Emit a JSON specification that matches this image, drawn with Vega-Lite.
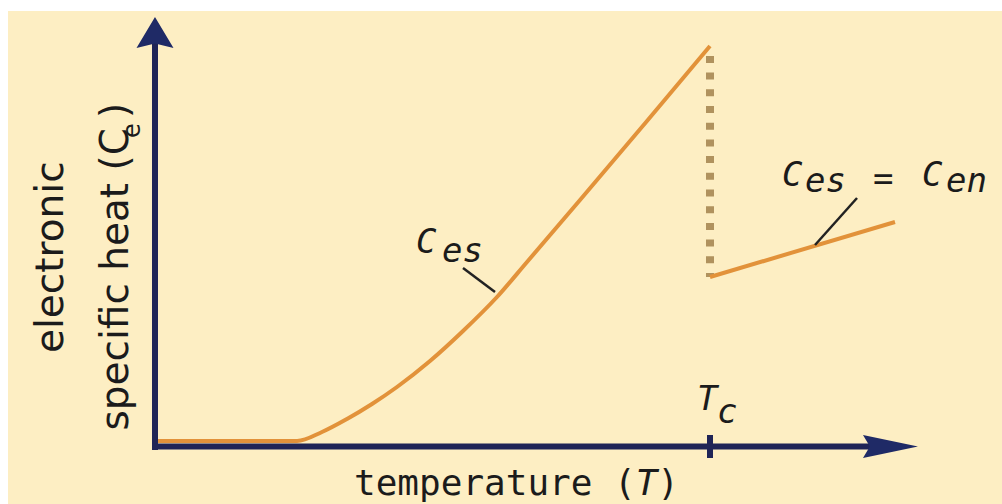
{
  "$schema": "https://vega.github.io/schema/vega-lite/v6.json",
  "width": 994,
  "height": 493,
  "autosize": {"type": "none"},
  "padding": {"left": 8, "top": 11, "right": 0, "bottom": 0},
  "background": "#ffffff",
  "config": {"view": {"fill": "#fdeec3", "stroke": null}},
  "datasets": {
    "curve": [
      {"T": 0, "C": 0, "phase": "superconducting"},
      {"T": 0.2559, "C": 0, "phase": "superconducting"},
      {"T": 0.3009, "C": 0.0228, "phase": "superconducting"},
      {"T": 0.3459, "C": 0.0557, "phase": "superconducting"},
      {"T": 0.391, "C": 0.0937, "phase": "superconducting"},
      {"T": 0.436, "C": 0.1367, "phase": "superconducting"},
      {"T": 0.4955, "C": 0.2025, "phase": "superconducting"},
      {"T": 0.555, "C": 0.2785, "phase": "superconducting"},
      {"T": 0.6162, "C": 0.3646, "phase": "superconducting"},
      {"T": 0.6703, "C": 0.4532, "phase": "superconducting"},
      {"T": 0.7658, "C": 0.6101, "phase": "superconducting"},
      {"T": 0.8865, "C": 0.8101, "phase": "superconducting"},
      {"T": 1, "C": 1, "phase": "superconducting"},
      {"T": 1, "C": 0.4152, "phase": "normal"},
      {"T": 1.3333, "C": 0.5544, "phase": "normal"}
    ],
    "jump": [{"T": 1, "C": 0.975, "C2": 0.4152}],
    "axes": [
      {"T": 0, "C": -0.0228, "T2": 0, "C2": 1.02},
      {"T": -0.0054, "C": -0.0139, "T2": 1.3, "C2": -0.0139},
      {"T": 1, "C": 0.0152, "T2": 1, "C2": -0.043}
    ],
    "arrows": [
      {"T": 0, "C": 1.0342, "dir": "up"},
      {"T": 1.3252, "C": -0.0139, "dir": "right"}
    ],
    "leaders": [
      {"T": 0.555, "C": 0.438, "T2": 0.6126, "C2": 0.3772},
      {"T": 1.2649, "C": 0.6152, "T2": 1.1892, "C2": 0.4962}
    ],
    "labels": [
      {"T": 0.4703, "C": 0.4759, "txt": "C", "part": "symbol"},
      {"T": 0.5171, "C": 0.4532, "txt": "es", "part": "symbol"},
      {"T": 1.1297, "C": 0.6456, "txt": "C", "part": "symbol"},
      {"T": 1.1712, "C": 0.6304, "txt": "es", "part": "symbol"},
      {"T": 1.2937, "C": 0.6354, "txt": "=", "part": "symbol"},
      {"T": 1.382, "C": 0.6456, "txt": "C", "part": "symbol"},
      {"T": 1.4252, "C": 0.6304, "txt": "en", "part": "symbol"},
      {"T": 0.9766, "C": 0.0785, "txt": "T", "part": "symbol"},
      {"T": 1.0126, "C": 0.0456, "txt": "c", "part": "symbol"},
      {"T": 0.3586, "C": -0.1367, "txt": "temperature (", "part": "xtitle"},
      {"T": 0.905, "C": -0.1367, "txt": ")", "part": "xtitle"},
      {"T": 0.8661, "C": -0.1367, "txt": "T", "part": "xtitle-var"},
      {"T": -0.1658, "C": 0.2228, "txt": "electronic", "part": "ytitle-start"},
      {"T": -0.0486, "C": 0.8177, "txt": ")", "part": "ytitle-start"},
      {"T": -0.0486, "C": 0.7924, "txt": "specific heat (C", "part": "ytitle-end"},
      {"T": -0.027, "C": 0.7671, "txt": "e", "part": "ytitle-sub"}
    ]
  },
  "encoding": {
    "x": {"field": "T", "type": "quantitative", "scale": {"domain": [-0.26486, 1.52613], "nice": false, "zero": false}, "axis": null},
    "y": {"field": "C", "type": "quantitative", "scale": {"domain": [-0.15949, 1.08861], "nice": false, "zero": false}, "axis": null}
  },
  "layer": [
    {
      "data": {"name": "jump"},
      "mark": {"type": "rule", "stroke": "#b0925e", "strokeWidth": 8, "strokeDash": [7, 9.7]},
      "encoding": {"y2": {"field": "C2"}}
    },
    {
      "data": {"name": "curve"},
      "mark": {"type": "line", "stroke": "#e2923a", "strokeWidth": 4, "interpolate": "monotone"},
      "encoding": {"detail": {"field": "phase", "type": "nominal"}}
    },
    {
      "data": {"name": "axes"},
      "mark": {"type": "rule", "stroke": "#1f2456", "strokeWidth": 6},
      "encoding": {"x2": {"field": "T2"}, "y2": {"field": "C2"}}
    },
    {
      "data": {"name": "arrows"},
      "mark": {"type": "point", "filled": true, "opacity": 1, "size": 3025, "color": "#1f2a66"},
      "encoding": {
        "shape": {
          "field": "dir",
          "type": "nominal",
          "scale": {
            "domain": ["up", "right"],
            "range": ["M0,-0.564L0.673,0.564L0,0.4L-0.673,0.564Z", "M1,0L-1,-0.42L-0.75,0L-1,0.42Z"]
          },
          "legend": null
        }
      }
    },
    {
      "data": {"name": "leaders"},
      "mark": {"type": "rule", "stroke": "#222222", "strokeWidth": 2.5},
      "encoding": {"x2": {"field": "T2"}, "y2": {"field": "C2"}}
    },
    {
      "data": {"name": "labels"},
      "transform": [{"filter": "datum.part === 'symbol'"}],
      "mark": {"type": "text", "font": "DejaVu Sans Mono", "fontSize": 34, "fontStyle": "italic", "align": "left", "baseline": "alphabetic", "color": "#1b1b1b"},
      "encoding": {"text": {"field": "txt"}}
    },
    {
      "data": {"name": "labels"},
      "transform": [{"filter": "datum.part === 'xtitle'"}],
      "mark": {"type": "text", "font": "DejaVu Sans Mono", "fontSize": 36, "align": "left", "baseline": "alphabetic", "color": "#1b1b1b"},
      "encoding": {"text": {"field": "txt"}}
    },
    {
      "data": {"name": "labels"},
      "transform": [{"filter": "datum.part === 'xtitle-var'"}],
      "mark": {"type": "text", "font": "DejaVu Sans Mono", "fontSize": 36, "fontStyle": "italic", "align": "left", "baseline": "alphabetic", "color": "#1b1b1b"},
      "encoding": {"text": {"field": "txt"}}
    },
    {
      "data": {"name": "labels"},
      "transform": [{"filter": "datum.part === 'ytitle-start'"}],
      "mark": {"type": "text", "font": "DejaVu Sans", "fontSize": 39, "angle": 270, "align": "left", "baseline": "alphabetic", "color": "#1b1b1b"},
      "encoding": {"text": {"field": "txt"}}
    },
    {
      "data": {"name": "labels"},
      "transform": [{"filter": "datum.part === 'ytitle-end'"}],
      "mark": {"type": "text", "font": "DejaVu Sans", "fontSize": 39, "angle": 270, "align": "right", "baseline": "alphabetic", "color": "#1b1b1b"},
      "encoding": {"text": {"field": "txt"}}
    },
    {
      "data": {"name": "labels"},
      "transform": [{"filter": "datum.part === 'ytitle-sub'"}],
      "mark": {"type": "text", "font": "DejaVu Sans", "fontSize": 24, "angle": 270, "align": "left", "baseline": "alphabetic", "color": "#1b1b1b"},
      "encoding": {"text": {"field": "txt"}}
    }
  ]
}
